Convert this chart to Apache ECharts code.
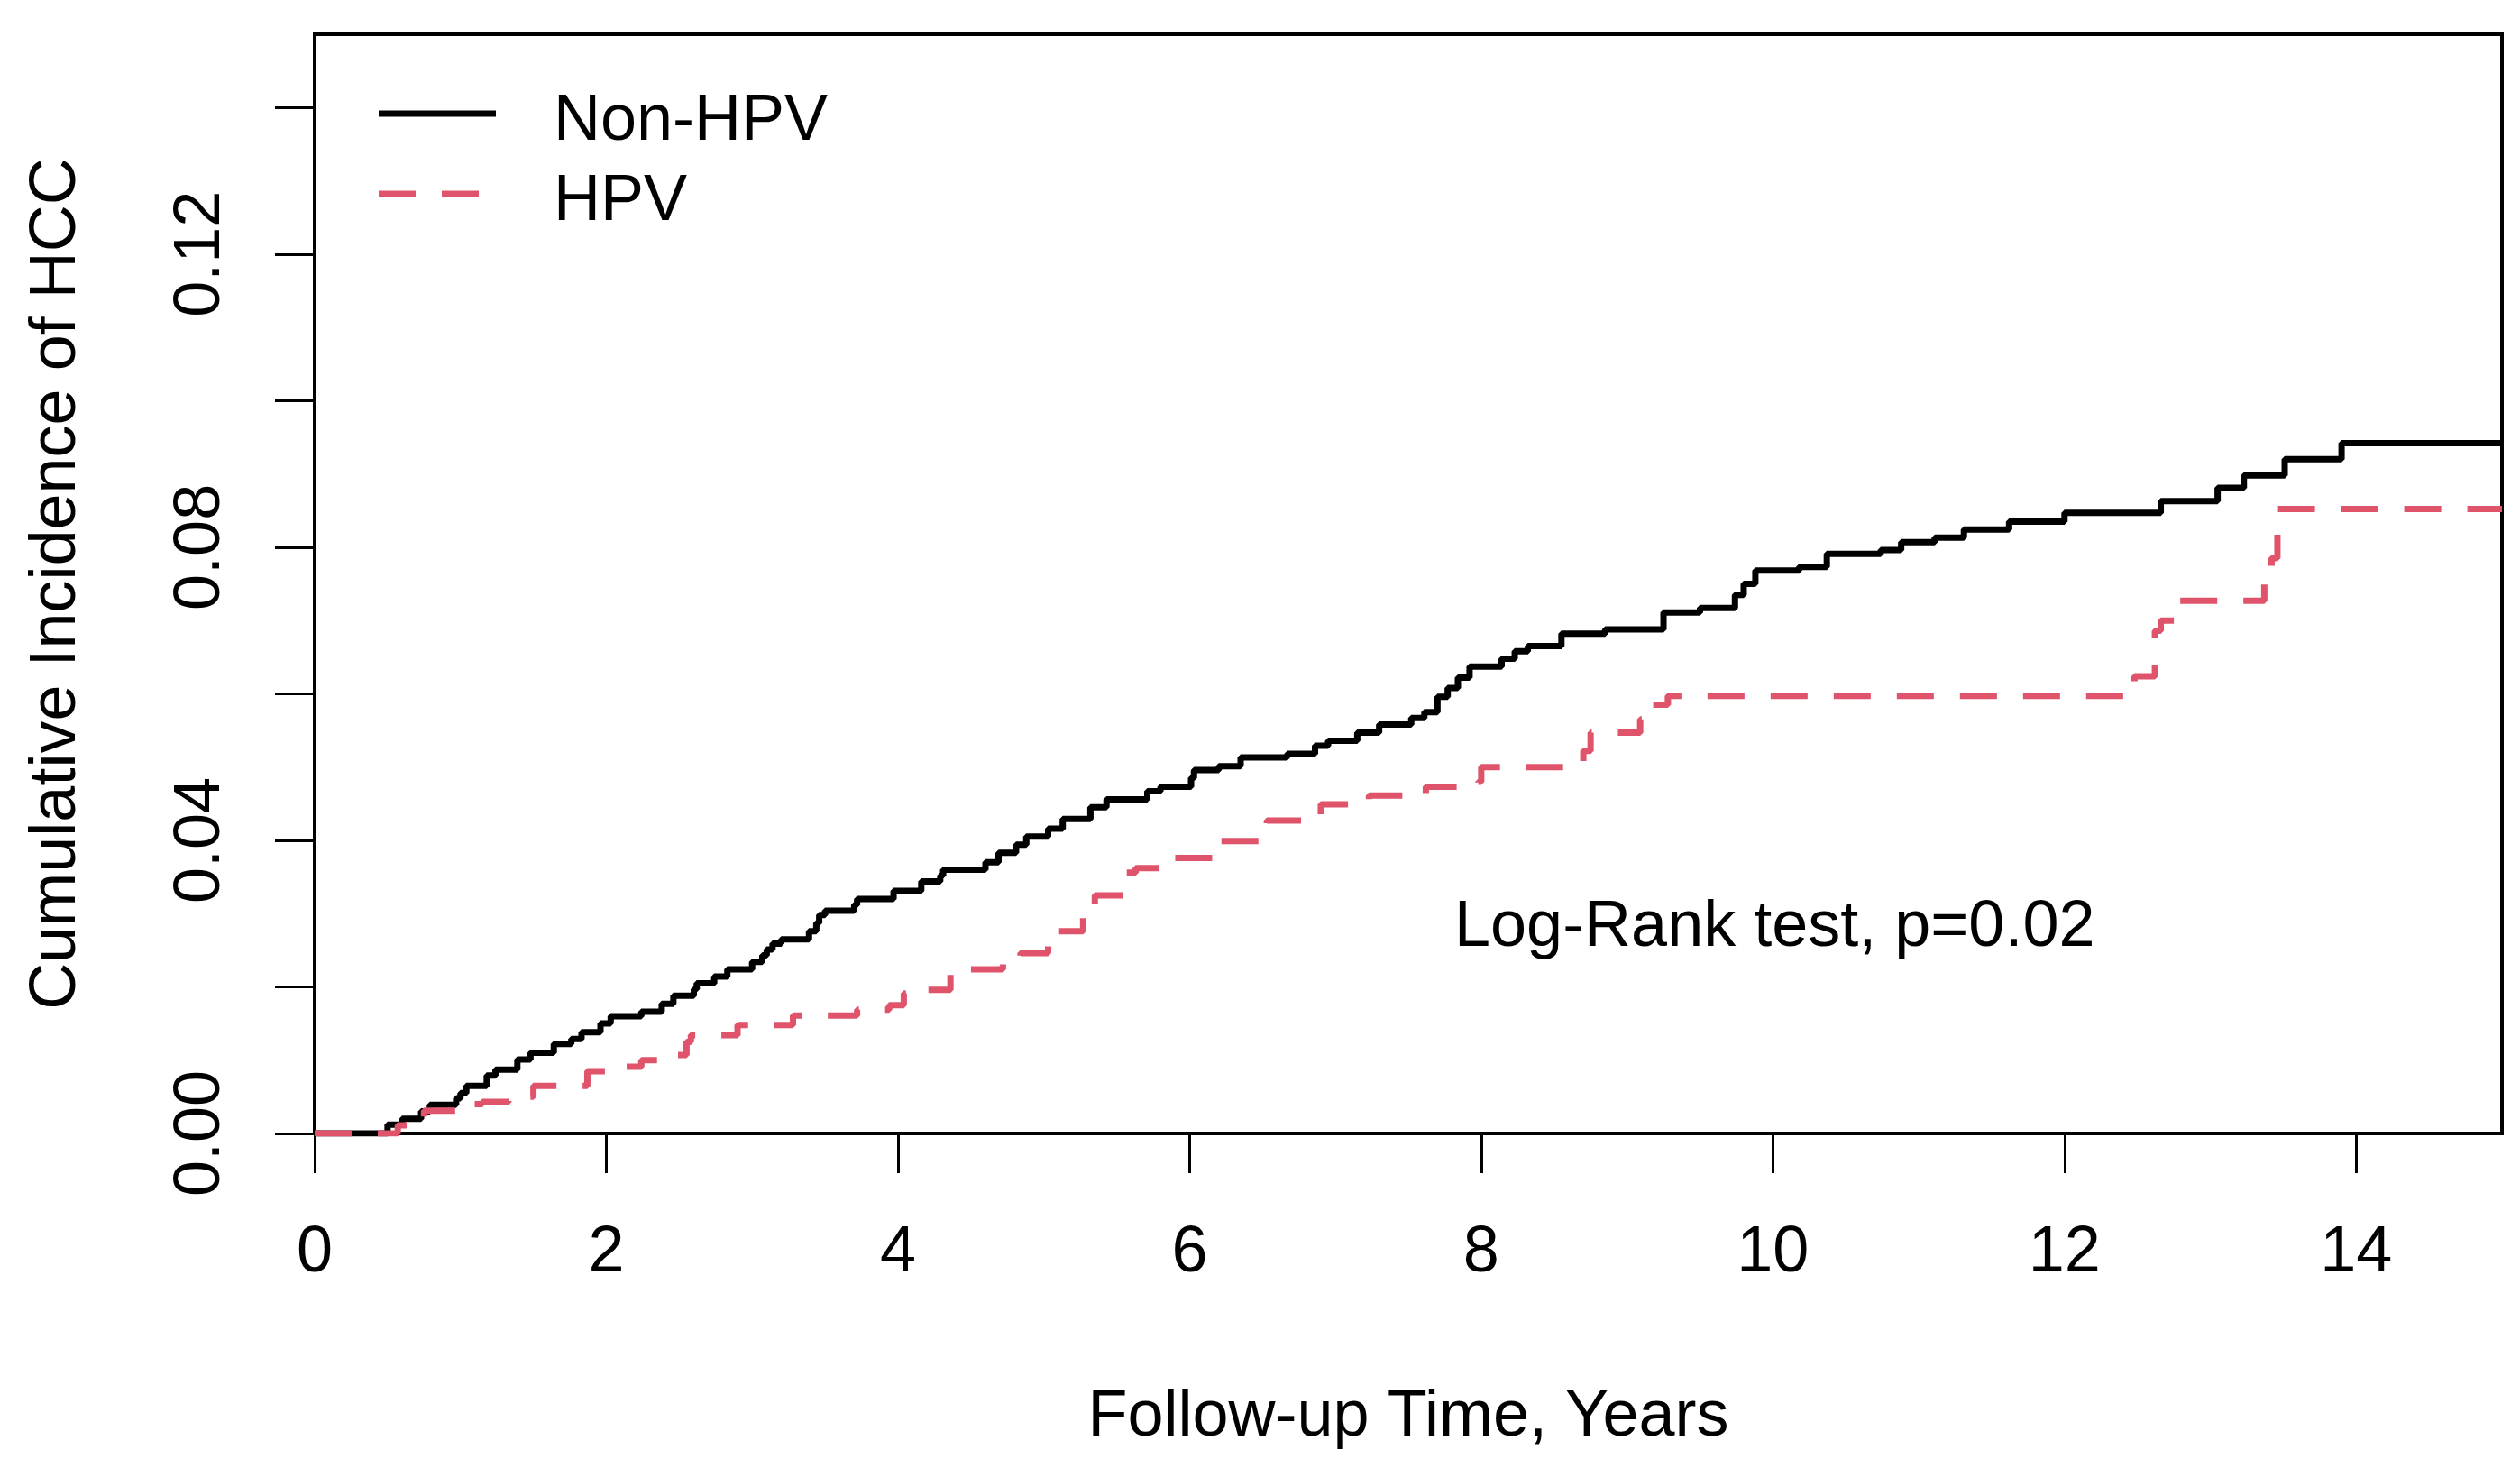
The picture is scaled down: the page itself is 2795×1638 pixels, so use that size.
<!DOCTYPE html>
<html>
<head>
<meta charset="utf-8">
<script src="https://cdn.jsdelivr.net/npm/echarts@6/dist/echarts.min.js"></script>
<style>
html,body{margin:0;padding:0;background:#fff;}
#chart{width:2795px;height:1638px;}
</style>
</head>
<body>
<div id="chart"></div>
<script>
// ---- data ----
const seriesNames = ['Non-HPV', 'HPV'];
const nonHpvTime = [0, 0.5, 0.6, 0.73, 0.79, 0.97, 1.0, 1.04, 1.18, 1.24, 1.39, 1.48, 1.64, 1.76, 1.83, 1.96, 2.03, 2.24, 2.38, 2.46, 2.6, 2.62, 2.74, 2.83, 3.0, 3.07, 3.1, 3.14, 3.2, 3.39, 3.44, 3.46, 3.5, 3.7, 3.72, 3.97, 4.16, 4.29, 4.31, 4.6, 4.69, 4.81, 4.88, 5.03, 5.13, 5.32, 5.43, 5.71, 5.8, 6.01, 6.03, 6.2, 6.35, 6.67, 6.86, 6.95, 7.15, 7.3, 7.52, 7.61, 7.7, 7.77, 7.84, 7.92, 8.14, 8.23, 8.32, 8.55, 8.85, 9.25, 9.5, 9.74, 9.8, 9.88, 10.18, 10.37, 10.74, 10.88, 11.11, 11.31, 11.62, 12.0, 12.66, 13.05, 13.23, 13.51, 13.9, 15];
const nonHpvValue = [0, 0.0012, 0.002, 0.003, 0.0039, 0.0048, 0.0055, 0.0065, 0.0079, 0.0087, 0.0101, 0.011, 0.0122, 0.0129, 0.0138, 0.015, 0.016, 0.0166, 0.0177, 0.0188, 0.0197, 0.0205, 0.0214, 0.0224, 0.0234, 0.0243, 0.0251, 0.0259, 0.0265, 0.0276, 0.0287, 0.0298, 0.0304, 0.0312, 0.032, 0.0331, 0.0344, 0.0352, 0.036, 0.037, 0.0383, 0.0394, 0.0405, 0.0416, 0.0429, 0.0445, 0.0456, 0.0467, 0.0473, 0.0485, 0.0496, 0.0501, 0.0513, 0.0518, 0.0529, 0.0536, 0.0547, 0.0558, 0.0567, 0.0575, 0.0596, 0.0608, 0.0622, 0.0637, 0.0648, 0.0658, 0.0665, 0.0682, 0.0688, 0.0711, 0.0717, 0.0735, 0.075, 0.0768, 0.0773, 0.0791, 0.0796, 0.0807, 0.0813, 0.0824, 0.0835, 0.0847, 0.0863, 0.0881, 0.0898, 0.092, 0.0942, 0.0942];
const hpvTime = [0, 0.57, 0.66, 0.75, 0.97, 1.15, 1.33, 1.5, 1.87, 2.03, 2.24, 2.42, 2.55, 2.58, 2.9, 3.28, 3.72, 3.94, 4.04, 4.07, 4.36, 4.72, 4.84, 5.03, 5.07, 5.27, 5.35, 5.56, 5.63, 5.86, 5.9, 6.2, 6.53, 6.9, 7.23, 7.62, 7.98, 8.0, 8.7, 8.75, 9.09, 9.13, 9.28, 12.48, 12.62, 12.66, 12.78, 13.37, 13.42, 13.46, 15];
const hpvValue = [0, 0.0011, 0.002, 0.0031, 0.004, 0.0043, 0.005, 0.0065, 0.0085, 0.0091, 0.01, 0.0107, 0.0125, 0.0134, 0.0148, 0.0161, 0.0169, 0.0175, 0.0191, 0.0196, 0.0224, 0.0234, 0.0246, 0.0263, 0.0276, 0.0304, 0.0325, 0.0356, 0.0362, 0.037, 0.0376, 0.0399, 0.0427, 0.0449, 0.0461, 0.0473, 0.048, 0.05, 0.0522, 0.0547, 0.0565, 0.0585, 0.0597, 0.0624, 0.0686, 0.07, 0.0727, 0.076, 0.0785, 0.0852, 0.0852];
const xTicks = [0, 2, 4, 6, 8, 10, 12, 14];
const yTicks = [0, 0.02, 0.04, 0.06, 0.08, 0.10, 0.12, 0.14];
const yLabels = [0, 0.04, 0.08, 0.12];
const xTitle = 'Follow-up Time, Years';
const yTitle = 'Cumulative Incidence of HCC';
const noteText = 'Log-Rank test, p=0.02';

// ---- chart ----
const FONT = '"Liberation Sans", Arial, sans-serif';
const BLACK = '#000';
const RED = '#DF536B';
const DASH = [41, 29];
const LW = 7;
// legend key glyphs (line sample drawn slightly above the text centre, as in R)
const ICON_SOLID = 'path://M0 0h0.1v0.1H0z M0 3.5h130v7H0z M129.9 31.9h0.1v0.1h-0.1z';
const ICON_DASH = 'path://M0 0h0.1v0.1H0z M0 3.5h41v7H0z M70 3.5h41v7H70z M129.9 31.9h0.1v0.1h-0.1z';
const chart = echarts.init(document.getElementById('chart'), null, {renderer: 'canvas'});
const pair = (t, v) => t.map((x, i) => [x, v[i]]);
const axisCommon = {
  axisLine: {show: true, lineStyle: {color: BLACK, width: 4}},
  axisTick: {show: true, inside: false, length: 44, lineStyle: {color: BLACK, width: 3}},
  splitLine: {show: false},
  nameTextStyle: {fontFamily: FONT, fontSize: 72, color: BLACK}
};
chart.setOption({
  animation: false,
  backgroundColor: '#fff',
  grid: {left: 349, right: 20, top: 38, bottom: 381, show: true, borderColor: BLACK, borderWidth: 4, backgroundColor: 'transparent'},
  legend: {
    orient: 'vertical', left: 415, top: 94, itemGap: 17,
    itemWidth: 130, itemHeight: 32,
    data: [
      {name: seriesNames[0], icon: ICON_SOLID, itemStyle: {color: BLACK, borderWidth: 0}},
      {name: seriesNames[1], icon: ICON_DASH, itemStyle: {color: RED, borderWidth: 0}}
    ],
    textStyle: {fontFamily: FONT, fontSize: 72, color: BLACK, lineHeight: 72, padding: [0, 0, 0, 59]}
  },
  xAxis: Object.assign({}, axisCommon, {
    type: 'value', min: 0, max: 15,
    name: xTitle, nameLocation: 'middle', nameGap: 279,
    axisTick: Object.assign({}, axisCommon.axisTick, {customValues: xTicks}),
    axisLabel: {customValues: xTicks, margin: 97, fontFamily: FONT, fontSize: 72, color: BLACK}
  }),
  yAxis: Object.assign({}, axisCommon, {
    type: 'value', min: 0, max: 0.15,
    name: yTitle, nameLocation: 'middle', nameGap: 250, nameRotate: 90,
    axisTick: Object.assign({}, axisCommon.axisTick, {customValues: yTicks}),
    axisLabel: {customValues: yLabels, rotate: 90, margin: 90, fontFamily: FONT, fontSize: 72, color: BLACK,
      formatter: v => v.toFixed(2)}
  }),
  graphic: [{
    type: 'text', x: 1613, y: 1029,
    style: {text: noteText, font: '72px ' + FONT, fill: BLACK, verticalAlign: 'middle', align: 'left'}
  }],
  series: [
    {name: seriesNames[0], type: 'line', step: 'end', symbol: 'none', data: pair(nonHpvTime, nonHpvValue),
      lineStyle: {color: BLACK, width: LW, type: 'solid'}, itemStyle: {color: BLACK}},
    {name: seriesNames[1], type: 'line', step: 'end', symbol: 'none', data: pair(hpvTime, hpvValue),
      lineStyle: {color: RED, width: LW, type: DASH}, itemStyle: {color: RED}}
  ]
});
</script>
</body>
</html>
